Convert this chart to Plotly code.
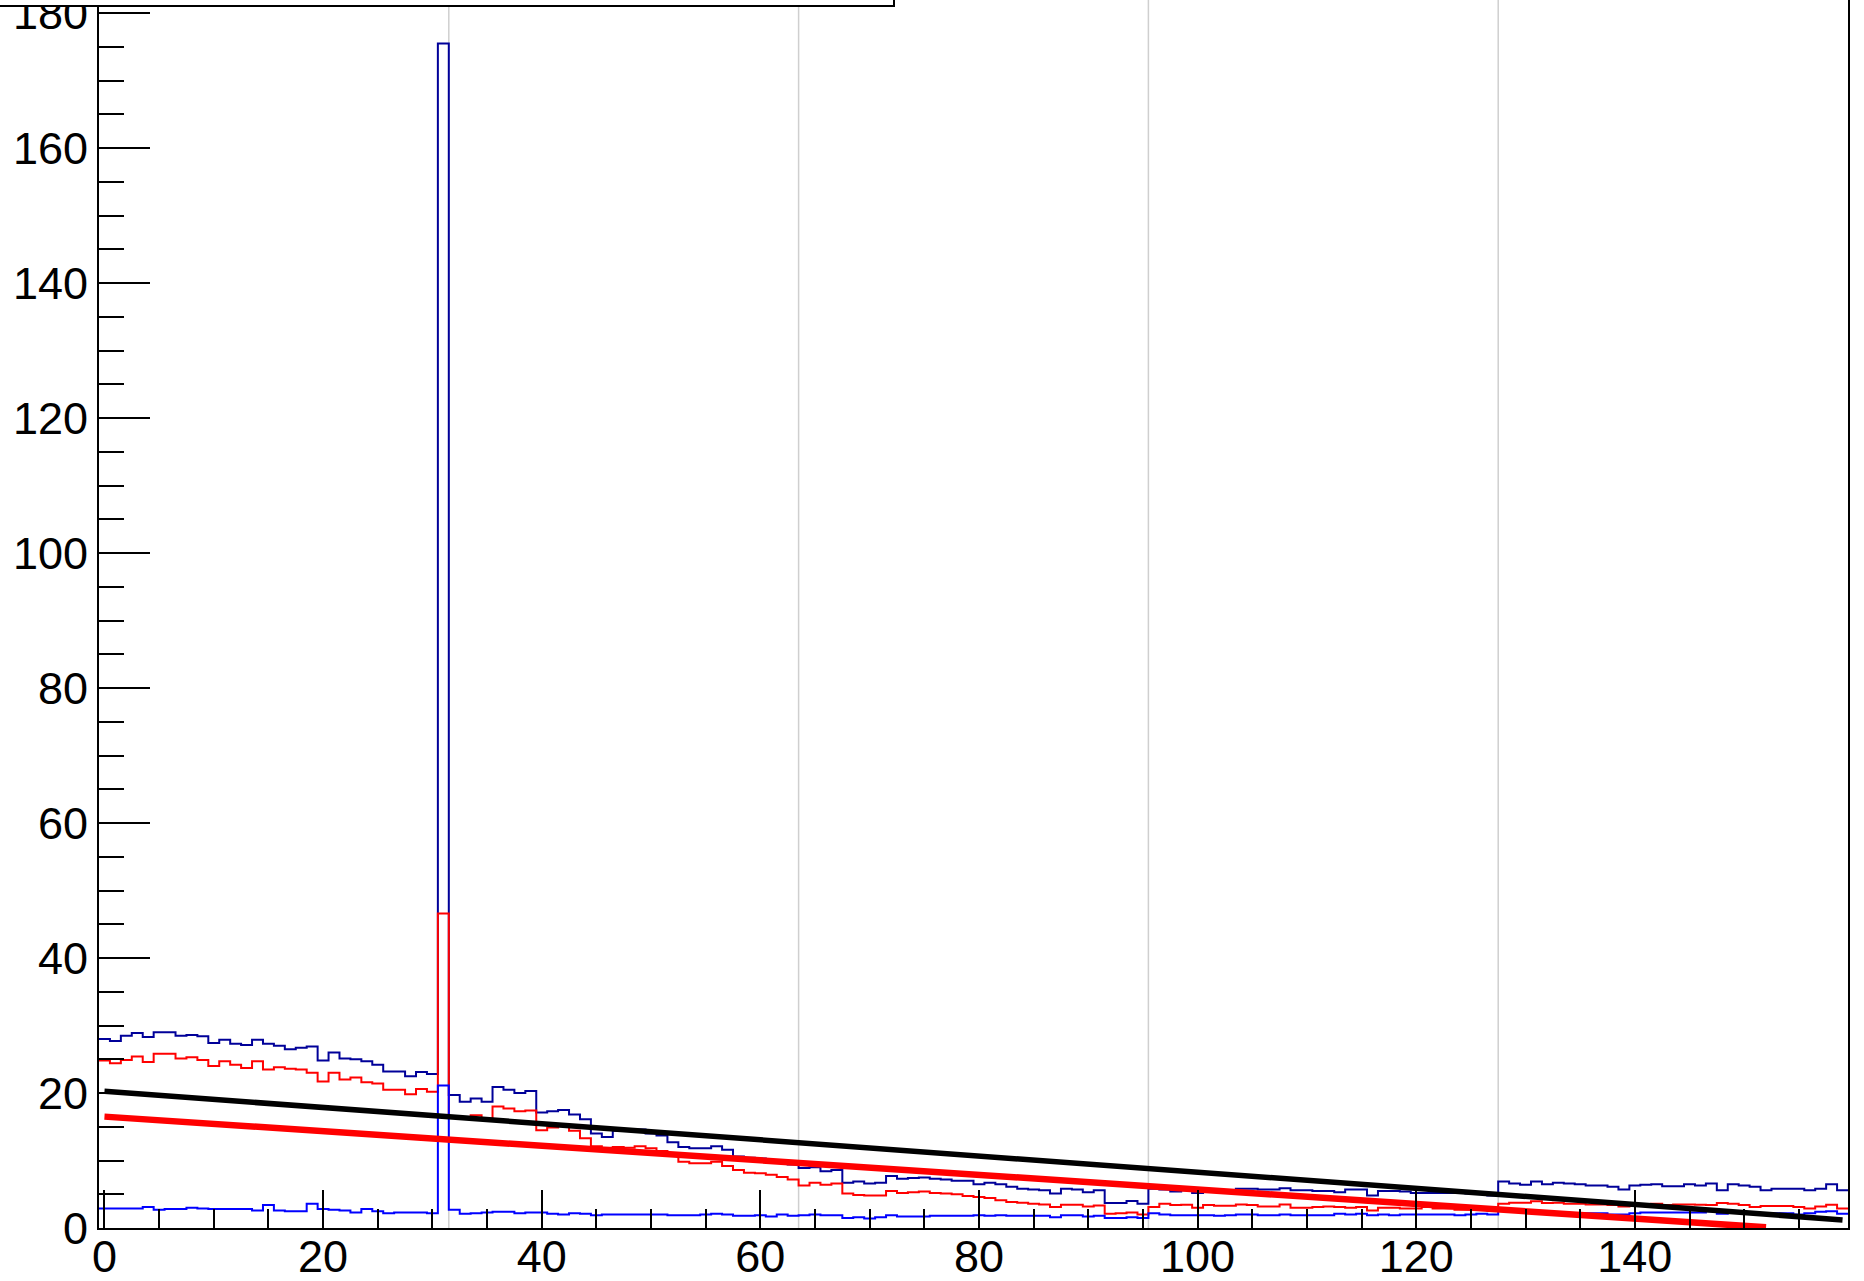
import numpy as np
import plotly.graph_objects as go

# histogram binning: 160 bins of width 1
bin_lo, bin_hi = -0.5, 159.5

# dark blue histogram (top curve, big spike at bin 31)
navy_counts = [
    28.0, 27.7, 28.5, 28.9, 28.3, 29.0, 29.0, 28.5, 28.6, 28.4,
    27.4, 27.9, 27.3, 27.1, 27.9, 27.3, 27.0, 26.5, 26.7, 26.9,
    24.8, 26.0, 25.1, 25.0, 24.7, 24.2, 23.2, 23.2, 22.5, 23.1,
    22.8, 175.5, 19.7, 18.7, 19.2, 18.7, 20.9, 20.5, 20.0, 20.3,
    17.1, 17.3, 17.5, 16.8, 16.1, 14.0, 13.5, 14.4, 14.4, 14.6,
    14.0, 13.7, 12.7, 12.0, 11.8, 11.8, 12.1, 11.6, 10.6, 10.4,
    10.3, 9.8, 9.8, 9.4, 8.9, 9.0, 8.4, 8.6, 6.7, 6.9,
    6.6, 6.7, 7.7, 7.3, 7.4, 7.5, 7.3, 7.2, 7.0, 7.0,
    6.5, 6.7, 6.5, 6.1, 5.8, 5.7, 5.6, 5.1, 5.8, 5.7,
    5.3, 5.6, 3.7, 3.7, 4.0, 3.6, 5.8, 5.7, 5.4, 5.6,
    5.2, 5.7, 5.5, 5.6, 5.8, 5.8, 5.7, 5.7, 5.9, 5.6,
    5.6, 5.5, 5.5, 5.3, 5.7, 5.7, 4.8, 5.5, 5.5, 5.4,
    5.2, 5.2, 5.2, 5.2, 5.2, 5.1, 5.2, 4.8, 6.9, 6.6,
    6.4, 6.9, 6.5, 6.7, 6.6, 6.5, 6.3, 6.3, 6.1, 5.7,
    6.3, 6.4, 6.5, 6.2, 6.2, 6.5, 6.3, 6.6, 5.6, 6.5,
    6.3, 6.1, 5.6, 5.8, 5.8, 5.8, 5.6, 5.8, 6.5, 5.6,
]

# red histogram
red_counts = [
    24.8, 24.4, 24.9, 25.4, 24.6, 25.8, 25.8, 25.1, 25.3, 24.9,
    24.0, 24.7, 24.2, 23.7, 24.7, 23.5, 23.8, 23.6, 23.5, 23.0,
    21.7, 23.0, 22.0, 22.3, 21.6, 21.4, 20.5, 20.5, 19.8, 20.6,
    20.2, 46.6, 16.6, 16.4, 16.7, 16.1, 18.0, 17.7, 17.3, 17.4,
    14.5, 14.9, 15.1, 14.4, 13.3, 12.1, 11.9, 12.0, 11.9, 12.1,
    11.8, 11.4, 11.0, 9.8, 9.6, 9.6, 9.8, 9.2, 8.6, 8.2,
    8.1, 7.9, 7.55, 7.2, 6.3, 6.7, 6.4, 6.6, 5.1, 4.9,
    4.8, 4.8, 5.5, 5.2, 5.3, 5.4, 5.2, 5.1, 5.0, 4.75,
    4.6, 4.45, 4.1, 3.85, 3.75, 3.6, 3.5, 3.1, 3.45, 3.45,
    3.2, 3.35, 2.1, 2.2, 2.3, 2.0, 3.1, 3.6, 3.4, 3.45,
    3.0, 3.4, 3.3, 3.3, 3.5, 3.4, 3.2, 3.2, 3.5, 3.0,
    3.0, 3.1, 3.2, 3.1, 3.0, 3.1, 2.6, 3.0, 3.0, 2.9,
    2.9, 3.1, 2.9, 2.9, 2.7, 2.7, 2.9, 2.6, 3.6, 3.75,
    3.75, 3.95, 3.7, 3.75, 3.6, 3.6, 3.5, 3.5, 3.4, 3.2,
    3.25, 3.5, 3.6, 3.4, 3.5, 3.5, 3.45, 3.4, 3.7, 3.6,
    3.4, 3.1, 3.25, 3.25, 3.25, 3.1, 2.9, 3.2, 3.45, 2.9,
]

# bright blue histogram (bottom curve)
blue_counts = [
    2.9, 2.9, 2.9, 2.9, 3.1, 2.7, 2.8, 2.8, 3.0, 2.9,
    2.8, 2.8, 2.8, 2.8, 2.6, 3.4, 2.6, 2.5, 2.5, 3.6,
    2.8, 2.7, 2.6, 2.3, 2.8, 2.5, 2.2, 2.3, 2.3, 2.3,
    2.2, 21.1, 2.7, 2.1, 2.2, 2.3, 2.4, 2.4, 2.2, 2.3,
    2.3, 2.1, 2.0, 2.2, 2.1, 1.9, 2.0, 2.0, 2.0, 2.0,
    2.0, 2.0, 1.9, 1.9, 1.9, 2.0, 2.1, 2.0, 1.8, 1.8,
    1.9, 1.7, 2.0, 1.8, 1.9, 2.0, 1.9, 1.9, 1.5, 1.6,
    1.4, 1.6, 1.9, 1.7, 1.7, 1.7, 1.8, 1.8, 1.8, 1.8,
    1.9, 1.8, 1.9, 1.8, 1.8, 1.8, 1.8, 1.6, 1.9, 1.9,
    1.7, 1.8, 1.5, 1.5, 1.6, 1.5, 2.2, 2.0, 1.9, 1.9,
    1.9, 1.9, 1.8, 1.9, 2.0, 2.0, 1.9, 1.9, 2.0, 1.9,
    1.9, 1.9, 1.9, 2.1, 2.0, 2.1, 1.9, 2.0, 1.9, 2.0,
    2.0, 2.0, 2.0, 2.0, 1.9, 2.0, 2.1, 2.0, 2.6, 2.5,
    2.4, 2.4, 2.3, 2.2, 2.2, 2.2, 2.2, 2.2, 2.0, 2.0,
    2.2, 2.3, 2.3, 2.3, 2.3, 2.3, 2.3, 2.5, 2.1, 2.3,
    2.3, 2.2, 2.2, 2.2, 2.2, 2.0, 2.2, 2.4, 2.5, 2.1,
]

# straight fit lines (end points)
fit_black_x = [0, 159]
fit_black_y = [20.25, 1.2]
fit_red_x = [0, 152]
fit_red_y = [16.5, 0.1]

# light vertical grid lines
grid_x = [31.5, 63.5, 95.5, 127.5]

NAVY = "#000099"
BLUE = "#0000ff"
RED = "#ff0000"

edges = np.linspace(bin_lo, bin_hi, len(navy_counts) + 1)


def step_y(vals):
    # repeat last value so the last bin gets its full width with shape 'hv'
    return list(vals) + [vals[-1]]


fig = go.Figure()

for vals, col in [(navy_counts, NAVY), (red_counts, RED), (blue_counts, BLUE)]:
    fig.add_trace(go.Scatter(
        x=edges, y=step_y(vals), mode="lines",
        line=dict(color=col, width=2, shape="hv"),
        hoverinfo="skip",
    ))

fig.add_trace(go.Scatter(x=fit_black_x, y=fit_black_y, mode="lines",
                         line=dict(color="black", width=5.5)))
fig.add_trace(go.Scatter(x=fit_red_x, y=fit_red_y, mode="lines",
                         line=dict(color=RED, width=6.5)))

for gx in grid_x:
    fig.add_vline(x=gx, line_color="#cfcfcf", line_width=1.5, layer="below")

W, H = 1864, 1281
ml, mr, mt, mb = 99, 16, 0, 53
plot_w, plot_h = W - ml - mr, H - mt - mb

# legend box, cut off by the top edge of the picture
fig.add_shape(type="rect", xref="paper", yref="paper",
              x0=-0.1, x1=(894 - ml) / plot_w,
              y0=(plot_h - 6) / plot_h, y1=1.2,
              fillcolor="white", line=dict(color="black", width=2),
              layer="above")

axis_font = dict(family="Liberation Sans, Arial, sans-serif", size=45, color="black")

fig.update_layout(
    width=W, height=H,
    margin=dict(l=ml, r=mr, t=mt, b=mb, pad=0, autoexpand=False),
    paper_bgcolor="white", plot_bgcolor="white",
    showlegend=False,
    xaxis=dict(
        range=[bin_lo, bin_hi], dtick=20, tick0=0, automargin=False,
        showgrid=False, zeroline=False,
        showline=True, linecolor="black", linewidth=2, mirror=False,
        ticks="inside", ticklen=38, tickwidth=2, tickcolor="black",
        minor=dict(dtick=5, tick0=0, ticks="inside", ticklen=19,
                   tickwidth=2, tickcolor="black", showgrid=False),
        tickfont=axis_font, ticklabelstandoff=-12,
        ticklabeloverflow="allow",
    ),
    yaxis=dict(
        range=[0, plot_h / 6.75], dtick=20, tick0=0, automargin=False,
        showgrid=False, zeroline=False,
        showline=True, linecolor="black", linewidth=2, mirror=True,
        ticks="inside", ticklen=51, tickwidth=2, tickcolor="black",
        minor=dict(dtick=5, tick0=0, ticks="inside", ticklen=25,
                   tickwidth=2, tickcolor="black", showgrid=False),
        tickfont=axis_font, ticklabeloverflow="allow",
    ),
)

fig.write_html("out.html", config={"displayModeBar": False},
               post_script="document.body.style.margin='0';document.body.style.overflow='hidden';")
